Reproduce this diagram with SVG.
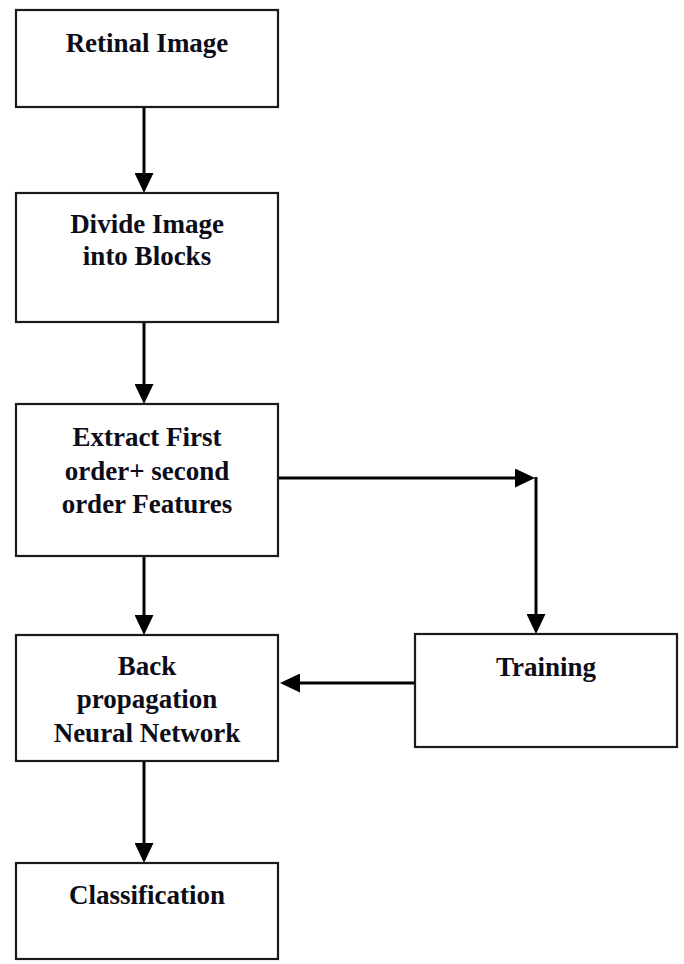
<svg xmlns="http://www.w3.org/2000/svg" width="684" height="964" viewBox="0 0 684 964">
<style>
.box{fill:#fff;stroke:#1a1a1a;stroke-width:2.2}
.lbl{font-family:"Liberation Serif","Times New Roman",serif;font-weight:bold;font-size:27px;fill:#0d0d1a;text-anchor:middle}
.con{fill:none;stroke:#000;stroke-width:3}
</style>
<defs>
<marker id="ah" viewBox="0 0 20 19" markerWidth="20" markerHeight="19" markerUnits="userSpaceOnUse" refX="0" refY="9.5" orient="auto">
<path d="M0,0 L20,9.5 L0,19 Z" fill="#000"/>
</marker>
</defs>
<rect width="684" height="964" fill="#fff"/>
<g id="connectors">
<path class="con" d="M144,107 V173" marker-end="url(#ah)"/>
<path class="con" d="M144,322 V384" marker-end="url(#ah)"/>
<path class="con" d="M278,478 H515" marker-end="url(#ah)"/>
<path class="con" d="M536,477 V614" marker-end="url(#ah)"/>
<path class="con" d="M144,556 V615" marker-end="url(#ah)"/>
<path class="con" d="M415,683 H300" marker-end="url(#ah)"/>
<path class="con" d="M144,761 V843" marker-end="url(#ah)"/>
</g>
<g id="retinal">
<rect class="box" x="16" y="10" width="262" height="97"/>
<text class="lbl" x="147" y="52">Retinal Image</text>
</g>
<g id="divide">
<rect class="box" x="16" y="193" width="262" height="129"/>
<text class="lbl" x="147" y="233">Divide Image</text>
<text class="lbl" x="147" y="265">into Blocks</text>
</g>
<g id="extract">
<rect class="box" x="16" y="404" width="262" height="152"/>
<text class="lbl" x="147" y="446">Extract First</text>
<text class="lbl" x="147" y="480">order+ second</text>
<text class="lbl" x="147" y="513">order Features</text>
</g>
<g id="bpnn">
<rect class="box" x="16" y="635" width="262" height="126"/>
<text class="lbl" x="147" y="675">Back</text>
<text class="lbl" x="147" y="708">propagation</text>
<text class="lbl" x="147" y="742">Neural Network</text>
</g>
<g id="training">
<rect class="box" x="415" y="634" width="262" height="113"/>
<text class="lbl" x="546" y="676">Training</text>
</g>
<g id="classification">
<rect class="box" x="16" y="863" width="262" height="96"/>
<text class="lbl" x="147" y="904">Classification</text>
</g>
</svg>
